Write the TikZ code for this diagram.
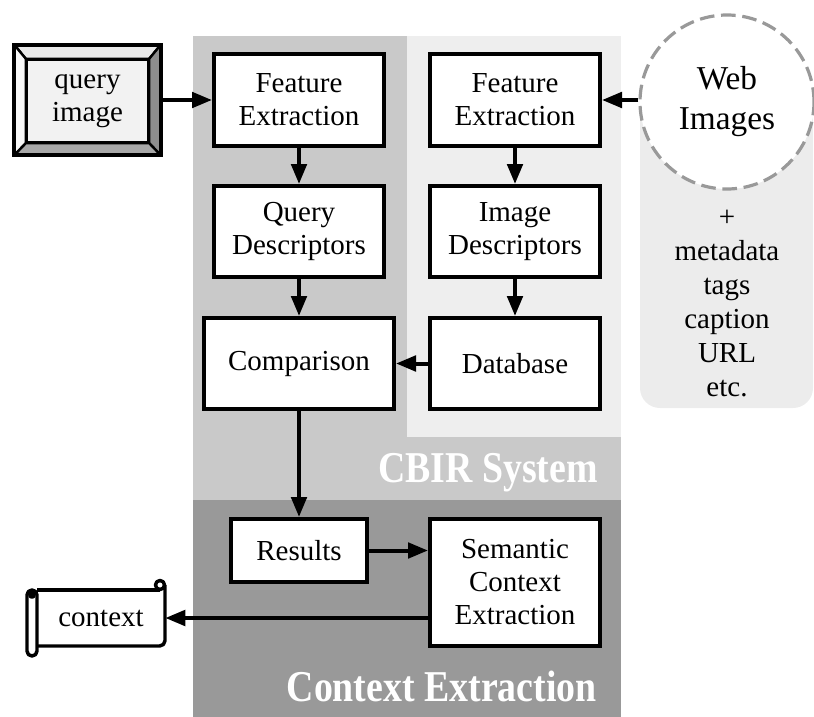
\documentclass[tikz,border=0pt]{standalone}
\usepackage{fontspec}
\usepackage{graphicx}
\setmainfont{Liberation Serif}
\usetikzlibrary{arrows.meta}

\definecolor{cbirgray}{HTML}{C9C9C9}
\definecolor{dbgray}{HTML}{EEEEEE}
\definecolor{ctxgray}{HTML}{999999}
\definecolor{webgray}{HTML}{ECECEC}
\definecolor{qface}{HTML}{F2F2F2}
\definecolor{qtop}{HTML}{E9E9E9}
\definecolor{qleft}{HTML}{F8F8F8}
\definecolor{qright}{HTML}{8E8E8E}
\definecolor{qbottom}{HTML}{A8A8A8}

\newcommand\PX{0.75pt}

\tikzset{
  txt/.style={font=\fontsize{21.75}{24.75}\selectfont},
  box/.style={txt, draw, line width=3pt, fill=white, align=center, inner sep=0pt,
    minimum width=170*\PX, minimum height=91*\PX},
  arr/.style={line width=3pt, -{Triangle[length=15pt,width=11.5pt]}},
  region/.style={white, inner sep=0pt, anchor=base east,
    font=\bfseries\fontsize{33}{36}\selectfont},
}

\begin{document}
\begin{tikzpicture}[x=\PX, y=-\PX]

  \useasboundingbox (0,0) rectangle (814,717);

  %% background areas
  \fill[cbirgray] (193,36) rectangle (621,500);
  \fill[dbgray] (407,36) rectangle (621,437);
  \fill[ctxgray] (193,500) rectangle (621,717);
  \fill[webgray, rounded corners=15pt] (640,102) rectangle (813,408);

  \node[region] (cbirlbl) at (598,482) {\scalebox{0.86}[1]{CBIR System}};
  \node[region] (ctxlbl) at (597,701) {\scalebox{0.86}[1]{Context Extraction}};

  %% web images
  \node[circle, draw=ctxgray, fill=white, line width=2.4pt, dash pattern=on 11pt off 5pt,
    minimum size=174*\PX, inner sep=0pt, align=center,
    font=\fontsize{25}{30}\selectfont] (wimg) at (727,102) {Web\\Images};
  \node[align=center, font=\fontsize{21.75}{25.5}\selectfont] (meta) at (727,304)
    {+\\metadata\\tags\\caption\\URL\\etc.};

  %% query image
  \node[inner sep=0pt, minimum width=146*\PX, minimum height=110*\PX] (qimg) at (87.5,100) {};
  \node[txt, draw, line width=1.8pt, fill=qface, inner sep=0pt, align=center,
    minimum width=121*\PX, minimum height=82*\PX] (qin) at (87.5,101) {query\\image};
  \begin{scope}[line width=1.8pt, line join=round]
    \filldraw[fill=qtop] (qimg.north west) -- (qimg.north east) -- (qin.north east) -- (qin.north west) -- cycle;
    \filldraw[fill=qleft] (qimg.north west) -- (qin.north west) -- (qin.south west) -- (qimg.south west) -- cycle;
    \filldraw[fill=qright] (qimg.north east) -- (qimg.south east) -- (qin.south east) -- (qin.north east) -- cycle;
    \filldraw[fill=qbottom] (qimg.south west) -- (qin.south west) -- (qin.south east) -- (qimg.south east) -- cycle;
  \end{scope}
  \draw[line width=3pt] (qimg.north west) rectangle (qimg.south east);

  %% CBIR boxes
  \node[box, minimum height=92*\PX] (fe1) at (299,100) {Feature\\Extraction};
  \node[box, minimum height=92*\PX] (fe2) at (515,100) {Feature\\Extraction};
  \node[box] (qd) at (299,231.5) {Query\\Descriptors};
  \node[box] (id) at (515,231.5) {Image\\Descriptors};
  \node[box, minimum width=190*\PX] (cmp) at (299,363.5) {Comparison};
  \node[box] (db) at (515,363.5) {Database};

  %% context extraction boxes
  \node[box, minimum width=136*\PX, minimum height=63*\PX] (res) at (299,550.5) {Results};
  \node[box, minimum height=127*\PX] (sce) at (515,582.5) {Semantic\\Context\\Extraction};

  %% context scroll
  \node[txt, inner sep=0pt, minimum width=128*\PX, minimum height=56*\PX] (ctx) at (101,618) {context};
  \begin{scope}[shift={(ctx.center)}, line width=2.6pt, line join=round]
    \draw (-64,-28) -- (59,-28);
    \draw[rounded corners=4pt] (64,-33) -- (64,28) -- (-64,28);
    \draw (59,-33) circle[radius=3.4pt];
    \draw[fill=white, rounded corners=3.7pt] (-74,-28) rectangle (-64,38);
    \draw (-69,-23) circle[radius=1.6pt];
  \end{scope}

  %% connectors
  \draw[arr] (qimg.east) -- (fe1.west);
  \draw[arr] (wimg.west |- fe2.east) -- (fe2.east);
  \draw[arr] (fe1) -- (qd);
  \draw[arr] (fe2) -- (id);
  \draw[arr] (qd) -- (cmp);
  \draw[arr] (id) -- (db);
  \draw[arr] (db) -- (cmp);
  \draw[arr] (cmp) -- (res);
  \draw[arr] (res.east) -- (res.east -| sce.west); %% res->sce
  \draw[arr] (sce.west |- ctx.east) -- (ctx.east); %% sce->ctx
\end{tikzpicture}
\end{document}
